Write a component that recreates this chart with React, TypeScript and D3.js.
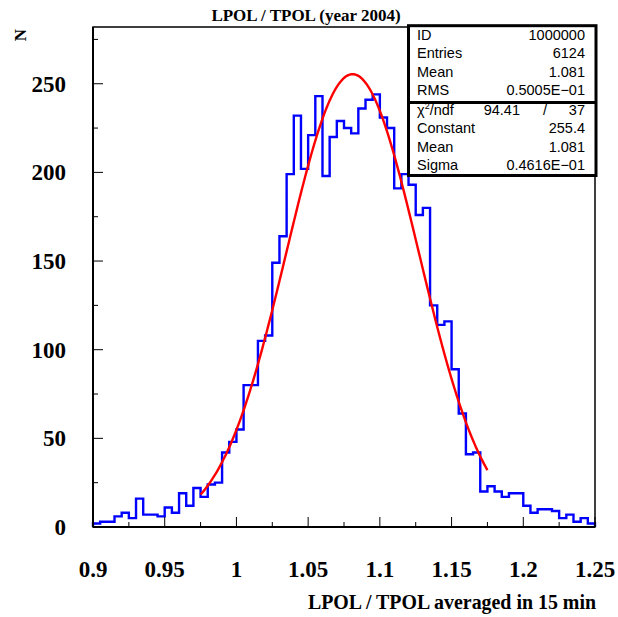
import React from "react";
import * as d3 from "d3";

// ---- data ----
const binStart = 0.9;
const binWidth = 0.005;
const counts = [
  2, 3, 3, 6, 8, 5, 16, 7, 7, 6,
  11, 8, 19, 12, 22, 17, 24, 25, 42, 48,
  55, 80, 80, 105, 108, 149, 164, 199, 232, 202,
  221, 243, 198, 220, 229, 225, 222, 236, 241, 244,
  231, 225, 191, 199, 193, 176, 180, 125, 114, 116,
  89, 64, 41, 42, 20, 23, 20, 17, 19, 19,
  12, 8, 10, 10, 9, 5, 7, 3, 5, 2,
];
const fitConstant = 255.4;
const fitMean = 1.081;
const fitSigma = 0.04616;
const fitRange = [0.975, 1.175];
const xMajorTicks = [0.9, 0.95, 1, 1.05, 1.1, 1.15, 1.2, 1.25];
const xTickLabels = ["0.9", "0.95", "1", "1.05", "1.1", "1.15", "1.2", "1.25"];
const yMajorTicks = [0, 50, 100, 150, 200, 250];
const statsRows1 = [
  ["ID", "1000000"],
  ["Entries", "6124"],
  ["Mean", "1.081"],
  ["RMS", "0.5005E\u221201"],
];
const statsRows2 = [
  ["Constant", "255.4"],
  ["Mean", "1.081"],
  ["Sigma", "0.4616E\u221201"],
];
const chi2Value = "94.41";
const ndfValue = "37";
const title = "LPOL / TPOL (year 2004)";
const xTitle = "LPOL / TPOL averaged in 15 min";
const yTitle = "N";

export default function App() {
  const W = 618, H = 617;
  const x = d3.scaleLinear().domain([0.9, 1.25]).range([93, 595]);
  const y = d3.scaleLinear().domain([0, 282]).range([527, 27]);

  const pts: [number, number][] = [[binStart, 0]];
  counts.forEach((c, i) => {
    const x0 = binStart + i * binWidth;
    const x1 = x0 + binWidth;
    pts.push([x0, c]);
    pts.push([x1, c]);
  });
  pts.push([binStart + counts.length * binWidth, 0]);
  const line = d3.line<[number, number]>().x((d) => x(d[0])).y((d) => y(d[1]));
  const histPath = line(pts) || "";

  const fitPts: [number, number][] = d3.range(0, 201).map((k) => {
    const xv = fitRange[0] + ((fitRange[1] - fitRange[0]) * k) / 200;
    const z = (xv - fitMean) / fitSigma;
    return [xv, fitConstant * Math.exp(-0.5 * z * z)];
  });
  const fitPath = line(fitPts) || "";

  const xMinor = d3.range(0, 15).map((k) => 0.9 + k * 0.025);
  const yMinor = d3.range(0, 12).map((k) => k * 25).filter((v) => v <= 282);

  const serif = "'Liberation Serif', 'Times New Roman', serif";
  const sans = "'Liberation Sans', Arial, sans-serif";

  const boxL = 408.5, boxR = 596, boxT = 25.7, boxMid = 102.5, boxB = 175.5;
  const textL = 417, textR = 585;
  const rowY1 = [40, 58.3, 76.7, 95];
  const rowY2 = [133.3, 151.7, 170];

  return (
    <svg width={W} height={H} style={{ position: "absolute", left: 0, top: 0 }}>
      <rect x={0} y={0} width={W} height={H} fill="#fff" />
      {/* histogram */}
      <path d={histPath} fill="none" stroke="#0000ff" strokeWidth={2.4} strokeLinejoin="miter" />
      {/* fit */}
      <path d={fitPath} fill="none" stroke="#ff0000" strokeWidth={2.4} />
      {/* frame */}
      <rect x={x(0.9)} y={y(282)} width={x(1.25) - x(0.9)} height={y(0) - y(282)} fill="none" stroke="#000" strokeWidth={1.5} />
      <line x1={x(0.9)} x2={x(0.9)} y1={y(0)} y2={y(282)} stroke="#000" strokeWidth={2} />
      <line x1={x(0.9)} x2={x(1.25)} y1={y(0)} y2={y(0)} stroke="#000" strokeWidth={2} />
      {/* x ticks */}
      {xMinor.map((v, i) => {
        const major = i % 2 === 0;
        return (
          <line key={"xt" + i} x1={x(v)} x2={x(v)} y1={y(0)} y2={y(0) - (major ? 10 : 5)} stroke="#000" strokeWidth={1} />
        );
      })}
      {/* y ticks */}
      {yMinor.map((v, i) => {
        const major = i % 2 === 0;
        return (
          <line key={"yt" + i} x1={x(0.9)} x2={x(0.9) + (major ? 10 : 5)} y1={y(v)} y2={y(v)} stroke="#000" strokeWidth={1} />
        );
      })}
      {/* x tick labels */}
      {xMajorTicks.map((v, i) => (
        <text key={"xl" + i} x={x(v)} y={577} textAnchor="middle" fontFamily={serif} fontWeight="bold" fontSize={23}>
          {xTickLabels[i]}
        </text>
      ))}
      {/* y tick labels */}
      {yMajorTicks.map((v) => (
        <text key={"yl" + v} x={66} y={y(v) + 8} textAnchor="end" fontFamily={serif} fontWeight="bold" fontSize={23}>
          {String(v)}
        </text>
      ))}
      {/* titles */}
      <text x={306} y={21} textAnchor="middle" fontFamily={serif} fontWeight="bold" fontSize={17}>
        {title}
      </text>
      <text x={596} y={609} textAnchor="end" fontFamily={serif} fontWeight="bold" fontSize={19.9}>
        {xTitle}
      </text>
      <text transform="translate(26,29) rotate(-90)" textAnchor="end" fontFamily={serif} fontWeight="bold" fontSize={17}>
        {yTitle}
      </text>
      {/* stats box */}
      <rect x={boxL} y={boxT} width={boxR - boxL} height={boxB - boxT} fill="#fff" stroke="#000" strokeWidth={3} />
      <line x1={boxL} x2={boxR} y1={boxMid} y2={boxMid} stroke="#000" strokeWidth={3} />
      {statsRows1.map((r, i) => (
        <g key={"s1" + i} fontFamily={sans} fontSize={14.5}>
          <text x={textL} y={rowY1[i]}>{r[0]}</text>
          <text x={textR} y={rowY1[i]} textAnchor="end">{r[1]}</text>
        </g>
      ))}
      <g fontFamily={sans} fontSize={14.5}>
        <text x={textL} y={115}>
          {"\u03c7"}
          <tspan fontSize={9} dy={-6}>2</tspan>
          <tspan dy={6}>/ndf</tspan>
        </text>
        <text x={520} y={115} textAnchor="end">{chi2Value}</text>
        <text x={545} y={115} textAnchor="middle">/</text>
        <text x={textR} y={115} textAnchor="end">{ndfValue}</text>
      </g>
      {statsRows2.map((r, i) => (
        <g key={"s2" + i} fontFamily={sans} fontSize={14.5}>
          <text x={textL} y={rowY2[i]}>{r[0]}</text>
          <text x={textR} y={rowY2[i]} textAnchor="end">{r[1]}</text>
        </g>
      ))}
    </svg>
  );
}
